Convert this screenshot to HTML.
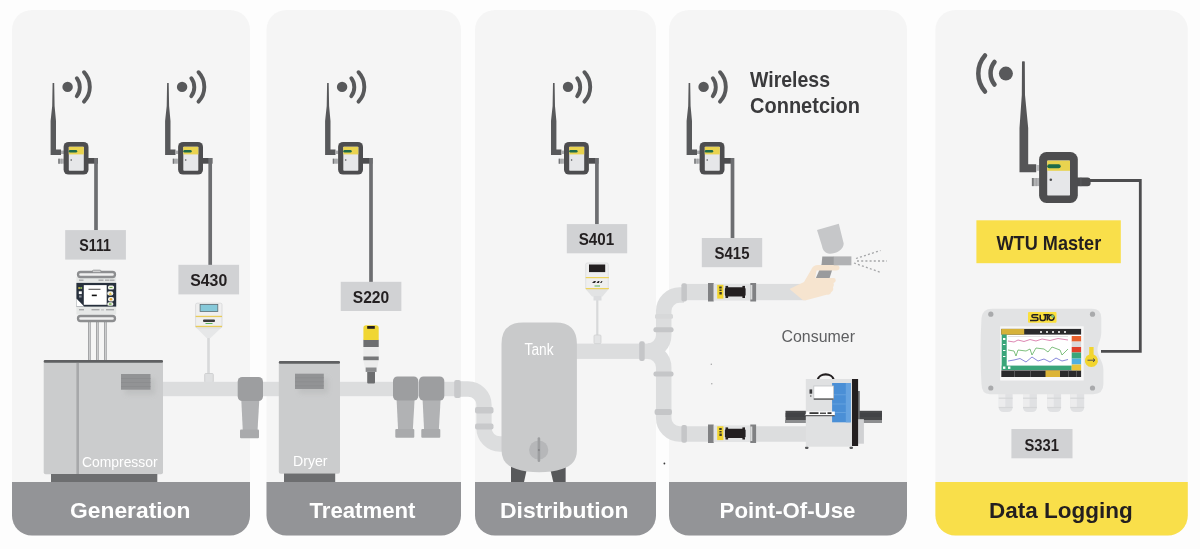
<!DOCTYPE html>
<html><head><meta charset="utf-8"><title>Compressed air monitoring</title>
<style>
html,body{margin:0;padding:0;background:#fdfdfd;width:1200px;height:549px;overflow:hidden}
svg{display:block;will-change:transform}
text{font-family:"Liberation Sans",sans-serif}
</style></head><body>
<svg width="1200" height="549" viewBox="0 0 1200 549">
<rect x="0" y="0" width="1200" height="549" fill="#fdfdfd"/>
<defs>
<filter id="sh" x="-50%" y="-50%" width="200%" height="200%"><feGaussianBlur stdDeviation="2.5"/></filter>
<g id="mod">
 <path d="M52.6,83 L54.2,83 L54.6,106 L56,121 L56,149.5 L61,149.5 L61,155 L50.6,155 L50.6,121 L52.2,106 Z" fill="#58595b"/>
 <rect x="61" y="150.6" width="3" height="3.4" fill="#a9aaac"/>
 <circle cx="67.6" cy="86.9" r="5.2" fill="#58595b"/>
 <path d="M76.8,78.2 A15,15 0 0 1 76.8,96.2" fill="none" stroke="#58595b" stroke-width="3.9" stroke-linecap="round"/>
 <path d="M84,72.2 A21.5,21.5 0 0 1 84,101.6" fill="none" stroke="#58595b" stroke-width="3.9" stroke-linecap="round"/>
 <rect x="58.3" y="158.7" width="5.5" height="5" fill="#b3b4b6"/>
 <rect x="58.3" y="158.7" width="1.4" height="5" fill="#747577"/>
 <rect x="61.2" y="158.7" width="0.6" height="5" fill="#9a9b9d"/>
 <rect x="88" y="158" width="10" height="5.7" fill="#4d4d4f"/>
 <rect x="63.6" y="141.9" width="24.9" height="32.7" rx="5" fill="#4d4d4f"/>
 <rect x="68.8" y="146.8" width="15" height="24" rx="0.8" fill="#e6e7e9"/>
 <rect x="68.8" y="146.8" width="15" height="7.6" fill="#e9d34f"/>
 <rect x="68.8" y="150" width="8.4" height="2.5" rx="1.2" fill="#1d6b4a"/>
 <circle cx="71.2" cy="160" r="0.8" fill="#4d4d4f"/>
</g>
</defs>

<!-- panels -->
<rect x="12" y="10" width="238" height="525.5" rx="20" fill="#f5f5f5"/>
<rect x="266.5" y="10" width="194.5" height="525.5" rx="20" fill="#f5f5f5"/>
<rect x="475" y="10" width="181" height="525.5" rx="20" fill="#f5f5f5"/>
<rect x="669" y="10" width="238" height="525.5" rx="20" fill="#f5f5f5"/>
<rect x="935.4" y="10" width="252.4" height="525.5" rx="20" fill="#f5f5f5"/>

<!-- bottom strips -->
<path d="M12,482 H250 V515.5 A20,20 0 0 1 230,535.5 H32 A20,20 0 0 1 12,515.5 Z" fill="#939497"/>
<path d="M266.5,482 H461 V515.5 A20,20 0 0 1 441,535.5 H286.5 A20,20 0 0 1 266.5,515.5 Z" fill="#939497"/>
<path d="M475,482 H656 V515.5 A20,20 0 0 1 636,535.5 H495 A20,20 0 0 1 475,515.5 Z" fill="#939497"/>
<path d="M669,482 H907 V515.5 A20,20 0 0 1 887,535.5 H689 A20,20 0 0 1 669,515.5 Z" fill="#939497"/>
<path d="M935.4,482 H1187.8 V515.5 A20,20 0 0 1 1167.8,535.5 H955.4 A20,20 0 0 1 935.4,515.5 Z" fill="#f9df4a"/>

<text x="70" y="518" font-size="22.6" font-weight="bold" fill="#ffffff" textLength="120.5" lengthAdjust="spacingAndGlyphs">Generation</text>
<text x="309.5" y="518" font-size="22.6" font-weight="bold" fill="#ffffff" textLength="106" lengthAdjust="spacingAndGlyphs">Treatment</text>
<text x="500" y="518" font-size="22.6" font-weight="bold" fill="#ffffff" textLength="128.5" lengthAdjust="spacingAndGlyphs">Distribution</text>
<text x="719.6" y="518" font-size="22.6" font-weight="bold" fill="#ffffff" textLength="135.8" lengthAdjust="spacingAndGlyphs">Point-Of-Use</text>
<text x="989" y="518" font-size="22.6" font-weight="bold" fill="#231f20" textLength="143.8" lengthAdjust="spacingAndGlyphs">Data Logging</text>

<!-- ===== panel 1: compressor ===== -->
<g id="s111dev">
 <g fill="#a4a5a7">
  <rect x="88" y="321" width="2.8" height="39"/><rect x="96" y="321" width="2.8" height="39"/><rect x="104" y="321" width="2.8" height="39"/>
 </g>
 <g fill="#d5d6d7">
  <rect x="89" y="321" width="0.8" height="39"/><rect x="97" y="321" width="0.8" height="39"/><rect x="105" y="321" width="0.8" height="39"/>
 </g>
 <rect x="76.4" y="277" width="39.8" height="37.5" fill="#e6e8e7"/>
 <rect x="78" y="272" width="37" height="5" rx="2.5" fill="#f0f0f0" stroke="#8d8e90" stroke-width="2.3"/>
 <rect x="92.5" y="270.2" width="8.5" height="2" rx="1" fill="#e8e8e8" stroke="#8d8e90" stroke-width="0.9"/>
 <rect x="76.4" y="282.9" width="39.8" height="23.7" fill="#27303d"/>
 <rect x="83.8" y="285.1" width="22.9" height="19.7" fill="#ffffff"/>
 <path d="M76.4,298.5 L84.2,306.6 L76.4,306.6 Z" fill="#ffffff"/>
 <rect x="78.3" y="287.2" width="1.8" height="1.6" fill="#d8c84a"/><rect x="80.3" y="287.2" width="1.8" height="1.6" fill="#9bc85a"/>
 <rect x="78.8" y="291.3" width="3" height="2.8" fill="#ffffff"/>
 <rect x="79" y="295.5" width="2.6" height="2" fill="#8a8f98"/>
 <g fill="#f2f2ea">
 <rect x="108" y="285.5" width="6" height="4" rx="1.5"/>
 <rect x="107.3" y="291.2" width="6" height="4.4" rx="2"/>
 <rect x="108" y="297" width="6" height="4.4" rx="2"/>
 <rect x="107.3" y="302.3" width="6" height="3.4" rx="1.5"/>
 </g>
 <rect x="109.5" y="287" width="3" height="1" fill="#6fb04a"/>
 <path d="M110.3,292.2 L112,294.8 H108.6 Z" fill="#e8c23a"/>
 <circle cx="111" cy="299.2" r="1.3" fill="#e8a83a"/>
 <rect x="109" y="303.3" width="2.5" height="1.5" fill="#6fb04a"/>
 <rect x="88.5" y="288.8" width="12" height="0.9" fill="#333"/>
 <rect x="91.8" y="294.6" width="5" height="1.6" fill="#111"/>
 <rect x="78" y="316" width="37" height="5" rx="2.5" fill="#f0f0f0" stroke="#8d8e90" stroke-width="2.3"/>
 <g fill="#a9aaac"><rect x="79" y="279.5" width="4.5" height="1.4"/><rect x="98.5" y="279.5" width="5" height="1.4"/><rect x="105" y="279.5" width="4" height="1.4"/><rect x="109.5" y="279.5" width="5" height="1.4"/><rect x="79" y="309" width="5" height="1.4"/><rect x="91.5" y="309" width="8" height="1.4"/><rect x="101" y="309.5" width="3" height="0.8"/><rect x="106" y="309" width="8" height="1.4"/></g>
</g>
<rect x="43.7" y="360" width="119.3" height="114.3" rx="2" fill="#cbcccd"/>
<rect x="43.7" y="360" width="119.3" height="2.8" rx="1.3" fill="#5f6062"/>
<rect x="76.4" y="363" width="2.6" height="111" fill="#a7a8aa"/>
<rect x="51" y="474" width="106.3" height="8" fill="#6d6e70"/>
<rect x="125" y="378.5" width="30" height="16" fill="#bebfc0" filter="url(#sh)" opacity="0.9"/>
<rect x="121" y="374" width="29.5" height="15.7" fill="#929395"/>
<g fill="#8a8b8d"><rect x="121" y="378" width="29.5" height="0.7"/><rect x="121" y="382" width="29.5" height="0.7"/><rect x="121" y="386" width="29.5" height="0.7"/></g>
<text x="82" y="467" font-size="14.4" fill="#ffffff" textLength="75.6" lengthAdjust="spacingAndGlyphs">Compressor</text>

<!-- S430 sensor -->
<rect x="207.2" y="337" width="2.6" height="37" fill="#d8d9da"/>
<rect x="204.7" y="373.5" width="8.6" height="9" rx="1" fill="#dfe0e1" stroke="#c9cacb" stroke-width="0.8"/>
<path d="M196,327.5 H221.6 L210.5,338 H206.5 Z" fill="#e6e7e8"/>
<rect x="195.6" y="303.2" width="26.4" height="24.6" rx="1.5" fill="#efefef" stroke="#d6d7d8" stroke-width="0.8"/>
<rect x="200.1" y="304.5" width="17.7" height="6.9" fill="#86c9d9" stroke="#5a6d74" stroke-width="0.8"/>
<rect x="195.6" y="315.8" width="26.4" height="1.3" fill="#e8cc5a"/>
<rect x="195.6" y="325.8" width="26.4" height="1.3" fill="#e8cc5a"/>
<rect x="203" y="319.5" width="12" height="2.5" rx="1" fill="#3a3a3a"/>
<rect x="205.5" y="323" width="7" height="1" fill="#5bb35b"/>

<!-- main pipe gen->treatment -->
<rect x="163" y="381.8" width="300" height="14.4" fill="#dcddde"/>

<!-- filters -->
<g id="filt">
 <path d="M241.3,400 L259.3,400 L257.5,431 L242.8,431 Z" fill="#b1b2b4"/>
 <rect x="240" y="429.5" width="19" height="8.7" rx="1" fill="#a9aaac"/>
 <rect x="237.7" y="376.9" width="25.3" height="24.1" rx="4.5" fill="#9d9ea0"/>
</g>
<use href="#filt" transform="translate(155.3,-0.5)"/>
<use href="#filt" transform="translate(181.3,-0.5)"/>

<!-- ===== panel 2: dryer ===== -->
<rect x="278.8" y="361" width="61.2" height="112.8" rx="2" fill="#cbcccd"/>
<rect x="278.8" y="361" width="61.2" height="2.8" rx="1.3" fill="#5f6062"/>
<rect x="284" y="473.5" width="51.2" height="8.5" fill="#6d6e70"/>
<rect x="299" y="378" width="29" height="15.5" fill="#bebfc0" filter="url(#sh)" opacity="0.9"/>
<rect x="295" y="373.7" width="28.8" height="15.3" fill="#929395"/>
<g fill="#8a8b8d"><rect x="295" y="377.5" width="28.8" height="0.7"/><rect x="295" y="381.5" width="28.8" height="0.7"/><rect x="295" y="385.5" width="28.8" height="0.7"/></g>
<text x="293" y="465.9" font-size="14.4" fill="#ffffff" textLength="34.5" lengthAdjust="spacingAndGlyphs">Dryer</text>

<!-- S220 sensor -->
<rect x="367.2" y="371" width="7.8" height="12.5" rx="1" fill="#6d6e70"/>
<path d="M363.4,360.2 H378.7 L376.5,372 H365.7 Z" fill="#ececec"/>
<rect x="365.7" y="367.5" width="10.8" height="4.4" fill="#8a8b8d"/>
<rect x="363.4" y="339.8" width="15.3" height="20.4" fill="#ececec"/>
<rect x="363.4" y="339.8" width="15.3" height="7.2" fill="#6d6e70"/>
<rect x="363.4" y="356.5" width="15.3" height="3.7" fill="#767779"/>
<path d="M363.4,340 V328 Q363.4,325.2 366.2,325.2 H375.9 Q378.7,325.2 378.7,328 V340 Z" fill="#f0d633"/>
<rect x="367.2" y="326" width="7.6" height="2.8" fill="#231f20"/>

<!-- pipe treatment -> tank -->
<path d="M455,389 H468 A16,16 0 0 1 484,405 V428 A16,16 0 0 0 500,444 H505" fill="none" stroke="#dcddde" stroke-width="15.3"/>
<rect x="454.2" y="380" width="6.6" height="18" rx="2" fill="#c8c9cb"/>
<rect x="475" y="407" width="18.5" height="6.5" rx="2" fill="#c8c9cb"/>
<rect x="475" y="423.4" width="18.5" height="6.1" rx="2" fill="#c8c9cb"/>

<!-- ===== panel 3: tank ===== -->
<rect x="576" y="343.6" width="80" height="15.3" fill="#dcddde"/>
<path d="M647.7,351.25 A16,16 0 0 0 663.7,335.25 V311 A16,16 0 0 1 679.7,295 H684" fill="none" stroke="#dcddde" stroke-width="15.5"/>
<rect x="684" y="283.9" width="122" height="16.3" fill="#dcddde"/>
<path d="M647.7,351.25 A16,16 0 0 1 663.7,367.25 V418 A16,16 0 0 0 679.7,434 H806" fill="none" stroke="#dcddde" stroke-width="15.5"/>
<g fill="#c5c6c8">
<rect x="639.2" y="341.3" width="5.5" height="19.7" rx="2"/>
<rect x="681.4" y="283.2" width="5.5" height="18.2" rx="2"/>
<rect x="655" y="314" width="18" height="4.7" rx="1.5" fill="#d7d8d9"/>
<rect x="681.4" y="425" width="5.5" height="17.8" rx="2"/>
<rect x="653.5" y="327.2" width="20" height="5" rx="2"/>
<rect x="653.5" y="371.4" width="20" height="5" rx="2"/>
<rect x="654.6" y="409.1" width="17.3" height="5.9" rx="2"/>
</g>
<path d="M511,466 H527.5 L524,482 H511 Z" fill="#58595b"/>
<path d="M549.5,466 H565.6 V482 H553.3 Z" fill="#58595b"/>
<path d="M501.5,344 Q501.5,322.5 523,322.5 H555.4 Q576.9,322.5 576.9,344 V450 Q576.9,465 562,469 Q552,472.3 539.2,472.3 Q526.4,472.3 516.4,469 Q501.5,465 501.5,450 Z" fill="#c9cacb"/>
<text x="524.6" y="355" font-size="16" fill="#ffffff" textLength="29" lengthAdjust="spacingAndGlyphs">Tank</text>
<circle cx="538.7" cy="450" r="9.6" fill="#b6b7b9"/>
<rect x="537.6" y="437.2" width="2.6" height="24.8" rx="1.3" fill="#9d9ea0"/>
<circle cx="538.9" cy="450" r="1.1" fill="#848587"/>

<!-- S401 sensor -->
<rect x="596.2" y="296" width="2.2" height="40" fill="#d8d9da"/>
<rect x="594" y="335" width="7" height="8.6" rx="1" fill="#e3e4e5" stroke="#cdcecf" stroke-width="0.7"/>
<path d="M586,289.5 H608.3 L602.5,296.5 H592 Z" fill="#e2e3e4"/>
<rect x="593.5" y="296" width="8" height="4.5" fill="#dcdddf"/>
<rect x="585.7" y="263" width="22.6" height="26.5" rx="1.5" fill="#efefef" stroke="#d9dadb" stroke-width="0.7"/>
<rect x="589" y="264.5" width="16.2" height="7.6" fill="#231f20"/>
<rect x="585.7" y="277" width="23.2" height="1.2" fill="#edd35a"/>
<rect x="585.7" y="288" width="23.2" height="1.2" fill="#edd35a"/>
<path d="M592,283 L594,281 H596 L595,283 Z M596.5,283 L598,281 H599.5 L599,283 Z M600,283 L601.5,281 H602.5 L601.5,283 Z" fill="#2a2a2a"/>
<rect x="594.5" y="285.5" width="5.5" height="1" fill="#5bb35b"/>

<!-- ===== panel 4 ===== -->
<g id="fm">
 <rect x="708" y="283" width="5.7" height="18.5" fill="#808183"/>
 <rect x="713.7" y="283.9" width="36.6" height="16.6" fill="#e3e4e5"/>
 <rect x="717.2" y="284.8" width="6.2" height="13.8" fill="#f2d52e"/>
 <path d="M719.2,286.5 h2.5 v2 h-2.5 z M719.4,289.5 h2.2 v1.6 h-2.2 z M719.4,292 h2.4 v2.5 h-2.4 z" fill="#3a3a2a"/>
 <rect x="724.9" y="287.3" width="20.7" height="9.3" rx="1.8" fill="#231f20"/>
 <g fill="#231f20"><rect x="725.5" y="285.9" width="2.6" height="2"/><rect x="742.4" y="285.9" width="2.6" height="2"/><rect x="725.5" y="296" width="2.6" height="2"/><rect x="742.4" y="296" width="2.6" height="2"/></g>
 <rect x="750.3" y="283" width="5.8" height="18.5" fill="#808183"/>
 <rect x="750.3" y="285" width="2" height="14.5" fill="#d9dadb"/>
</g>
<use href="#fm" transform="translate(0,141.5)"/>

<!-- hand + spray gun -->
<path d="M822,264 L834,264 L829,280 L815,280 Z" fill="#9a9b9d"/>
<path d="M789.5,289 L804,282 L811,270 Q813,265 818,265 H836 Q839.5,265 839.5,267.8 Q839.5,270.5 836,270.5 H816.6 L815.2,278 H833.5 Q835.8,278 835.8,280.2 Q835.8,282.2 833.5,283 Q834.8,285.5 833,287.6 Q834,290.5 831,292.5 Q830.5,294.8 826.5,294.8 L806,300.2 H803 Z" fill="#f6e4cf"/>
<path d="M817,230 L838.8,223.7 L843.7,243.5 C843.7,250 836,253.7 830,253.7 C825,253.7 822.8,250 822,246 Z" fill="#c6c7c9"/>
<path d="M822.3,256.4 H834 V265 H821.5 Z" fill="#9a9b9d"/>
<rect x="833.7" y="256.4" width="17.7" height="8.9" fill="#b1b2b4"/>
<g stroke="#a5a6a8" stroke-width="1.3" stroke-dasharray="2,2.2" fill="none">
<path d="M856,258.5 L880.5,250.5"/><path d="M857,261 L887,261"/><path d="M854,263 L881,272.5"/>
</g>
<text x="781.5" y="342" font-size="17.2" fill="#5e5f61" textLength="73.5" lengthAdjust="spacingAndGlyphs">Consumer</text>

<!-- machine -->
<rect x="785.5" y="410.8" width="96.5" height="9.5" fill="#48494b"/>
<rect x="785.5" y="413" width="96.5" height="4" fill="#3f4042" opacity="0.6"/>
<rect x="785" y="420" width="97" height="3" fill="#8d8e90"/>
<rect x="858" y="391" width="1.8" height="29" fill="#6d6e70"/>
<rect x="858" y="419.2" width="5.9" height="24.5" fill="#d0d1d3"/>
<path d="M817.8,379.5 A8,6 0 0 1 833.6,379.5" fill="none" stroke="#231f20" stroke-width="2.2"/>
<rect x="805.8" y="379" width="46.5" height="67.7" fill="#e0e1e2"/>
<rect x="832.1" y="383" width="18.6" height="39.3" fill="#4a8fd6"/>
<rect x="845.8" y="383" width="4.9" height="39.3" fill="#66a3e0"/>
<g fill="#6aa6e0"><rect x="832.1" y="394.4" width="13.7" height="0.8"/><rect x="832.1" y="403.6" width="13.7" height="0.8"/><rect x="832.1" y="412" width="13.7" height="0.8"/></g>
<rect x="852" y="379" width="6.1" height="67" fill="#231f20"/>
<rect x="813.8" y="386" width="19.8" height="13.3" fill="#ffffff" stroke="#c2c3c5" stroke-width="0.8"/>
<rect x="813.8" y="398.4" width="19.8" height="1.3" fill="#4d4d4f"/>
<rect x="809.5" y="389.4" width="2.7" height="4.3" fill="#3a3a3c"/>
<circle cx="810.8" cy="396" r="0.8" fill="#555"/>
<path d="M804.6,416.1 L807,411.6 H834.8 V416.1 Z" fill="#ffffff"/>
<rect x="804.6" y="415.2" width="30.2" height="1" fill="#3a3a3c"/>
<g fill="#222"><rect x="809.5" y="412.3" width="9" height="1.6"/><rect x="820" y="412.6" width="6" height="1.2"/><rect x="827.5" y="412.3" width="4" height="1.6"/></g>
<rect x="805" y="446.7" width="3.5" height="2.2" rx="0.8" fill="#58595b"/>
<rect x="849.5" y="446.7" width="3.5" height="2.2" rx="0.8" fill="#58595b"/>

<!-- ===== panel 5 ===== -->
<path d="M1082,180.5 H1140.3 V351.4 H1101" fill="none" stroke="#4d4d4f" stroke-width="2.8"/>
<path d="M1022,61.5 Q1023.4,60.8 1024.8,61.5 L1025,95 L1028.2,128 L1028.2,164.2 L1036.2,164.2 L1036.2,172.3 L1019.5,172.3 L1019.5,128 L1021.8,95 Z" fill="#555557"/>
<circle cx="1005.9" cy="73.6" r="7" fill="#58595b"/>
<path d="M994.5,62 A18,18 0 0 0 994.5,84.5" fill="none" stroke="#58595b" stroke-width="4.5" stroke-linecap="round"/>
<path d="M985,55.5 A27.5,27.5 0 0 0 985,91.5" fill="none" stroke="#58595b" stroke-width="4.5" stroke-linecap="round"/>
<rect x="1031.9" y="178" width="7.5" height="8.1" fill="#b3b4b6"/>
<rect x="1031.9" y="178" width="1.8" height="8.1" fill="#747577"/>
<rect x="1035.8" y="178" width="0.8" height="8.1" fill="#9a9b9d"/>
<rect x="1036.2" y="165" width="3.2" height="5.8" fill="#b9babc"/>
<path d="M1077,177.5 H1087.5 Q1090.6,177.5 1090.6,180.5 V183.2 Q1090.6,186.2 1087.5,186.2 H1077 Z" fill="#4d4d4f"/>
<rect x="1080.6" y="177.5" width="0.7" height="8.7" fill="#5e5f61"/>
<rect x="1039.1" y="152.1" width="38.7" height="50.8" rx="7.5" fill="#4d4d4f"/>
<rect x="1047.2" y="160.6" width="22.8" height="35" rx="1.2" fill="#e6e7e9"/>
<rect x="1047.2" y="160.6" width="22.8" height="10.2" fill="#e9d34f"/>
<rect x="1047.2" y="164.2" width="13.5" height="4" rx="2" fill="#1d6b4a"/>
<circle cx="1050.8" cy="179.8" r="1.3" fill="#4d4d4f"/>

<rect x="976.4" y="220.3" width="144.4" height="42.9" fill="#f9df4a"/>
<text x="996.5" y="249.5" font-size="19.9" font-weight="bold" fill="#231f20" textLength="104.7" lengthAdjust="spacingAndGlyphs">WTU Master</text>

<!-- data logger -->
<g>
 <path d="M998.75,393 H1012.65 V407 Q1012.65,412 1007.75,412 H1003.65 Q998.75,412 998.75,407 Z" fill="#e0e1e3"/>
 <rect x="998.75" y="394" width="6.6" height="13.5" fill="#ececed"/>
 <rect x="998.75" y="397.6" width="13.9" height="1.2" fill="#d5d6d8"/>
 <rect x="998.75" y="406.9" width="13.9" height="1.2" fill="#d5d6d8"/>
 <path d="M1023,393 H1036.9 V407 Q1036.9,412 1032,412 H1027.9 Q1023,412 1023,407 Z" fill="#e0e1e3"/>
 <rect x="1023" y="394" width="6.6" height="13.5" fill="#ececed"/>
 <rect x="1023" y="397.6" width="13.9" height="1.2" fill="#d5d6d8"/>
 <rect x="1023" y="406.9" width="13.9" height="1.2" fill="#d5d6d8"/>
 <path d="M1047.2,393 H1061.1000000000001 V407 Q1061.1000000000001,412 1056.2,412 H1052.1000000000001 Q1047.2,412 1047.2,407 Z" fill="#e0e1e3"/>
 <rect x="1047.2" y="394" width="6.6" height="13.5" fill="#ececed"/>
 <rect x="1047.2" y="397.6" width="13.9" height="1.2" fill="#d5d6d8"/>
 <rect x="1047.2" y="406.9" width="13.9" height="1.2" fill="#d5d6d8"/>
 <path d="M1070.3,393 H1084.2 V407 Q1084.2,412 1079.3,412 H1075.2 Q1070.3,412 1070.3,407 Z" fill="#e0e1e3"/>
 <rect x="1070.3" y="394" width="6.6" height="13.5" fill="#ececed"/>
 <rect x="1070.3" y="397.6" width="13.9" height="1.2" fill="#d5d6d8"/>
 <rect x="1070.3" y="406.9" width="13.9" height="1.2" fill="#d5d6d8"/>
</g>
<path d="M992,308.8 H1092 Q1101.3,308.8 1101.3,318 V332 C1101.3,340 1097.5,344 1097.5,350 C1097.5,357 1103.4,361 1103.4,370 V384 Q1103.4,394.2 1093,394.2 H990 Q981.5,394.2 981.5,384 Q979.5,352 981.5,318 Q982.5,308.8 992,308.8 Z" fill="#e2e3e4"/>
<g fill="#a9aaac"><circle cx="990.8" cy="314.2" r="2.6"/><circle cx="1092.5" cy="314.2" r="2.6"/><circle cx="990.8" cy="388" r="2.6"/><circle cx="1092.5" cy="388" r="2.6"/></g>
<rect x="1028" y="312" width="28.5" height="10.7" rx="1" fill="#fbe03c"/>
<path d="M1030,320.4 H1036.4 Q1038,320.4 1038,318.9 Q1038,317.4 1036.4,317.4 H1033.2 Q1031.9,317.4 1031.9,316.1 Q1031.9,314.7 1033.3,314.7 H1038.3 M1040.2,314.7 V318.6 Q1040.2,320.4 1042,320.4 H1043.5 Q1045.3,320.4 1045.3,318.6 V315 M1043.4,314.7 H1049.5 M1047.3,314.7 V320.6" fill="none" stroke="#231f20" stroke-width="1.5"/>
<circle cx="1051.4" cy="317.6" r="2.6" fill="none" stroke="#231f20" stroke-width="1.5"/>
<circle cx="1052.6" cy="316.2" r="1.5" fill="#7cc47a"/>
<rect x="1000.2" y="326.3" width="83.5" height="54.2" fill="#f7f7f7"/>
<rect x="1001.3" y="328.9" width="79.8" height="48.1" fill="#ffffff"/>
<rect x="1001.3" y="328.9" width="79.8" height="5.7" fill="#2a2a2c"/>
<rect x="1001.3" y="328.9" width="22.9" height="5.7" fill="#d6b23a"/>
<g fill="#cfcfcf"><rect x="1040" y="331" width="2" height="2"/><rect x="1046" y="331" width="2" height="2"/><rect x="1052" y="331" width="2" height="2"/><rect x="1058" y="331" width="2" height="2"/><rect x="1064" y="331" width="2" height="2"/></g>
<rect x="1001.3" y="370.4" width="79.8" height="6.6" fill="#2a2a2c"/>
<rect x="1045.5" y="370.4" width="14.5" height="6.6" fill="#dcb436"/>
<g fill="#6a6a6c"><rect x="1014" y="370.4" width="0.7" height="6.6"/><rect x="1030" y="370.4" width="0.7" height="6.6"/><rect x="1068" y="370.4" width="0.7" height="6.6"/><rect x="1076" y="370.4" width="0.7" height="6.6"/></g>
<rect x="1001.7" y="334.6" width="5" height="35.4" fill="#3aa57a"/>
<rect x="1001.7" y="365.6" width="70" height="4.4" fill="#3aa57a"/>
<g fill="#ffffff"><rect x="1003" y="338" width="2.4" height="2"/><rect x="1003" y="344" width="2.4" height="1"/><rect x="1003" y="350" width="2.4" height="1"/><rect x="1003" y="356" width="2.4" height="1"/><rect x="1003" y="366.5" width="2.4" height="2.4"/><rect x="1008" y="366.5" width="2.4" height="2.4"/></g>
<g>
 <rect x="1071.7" y="336" width="9.4" height="5.6" fill="#e8602c"/>
 <rect x="1071.7" y="341.6" width="9.4" height="5.4" fill="#d9d9d9"/>
 <rect x="1071.7" y="347" width="9.4" height="5.5" fill="#e0402a"/>
 <rect x="1071.7" y="352.5" width="9.4" height="6.1" fill="#3aa57a"/>
 <rect x="1071.7" y="358.6" width="9.4" height="5.9" fill="#4fb0e0"/>
 <rect x="1071.7" y="364.5" width="9.4" height="5.9" fill="#e8c43a"/>
</g>
<g fill="none" stroke-width="0.8">
 <path d="M1008,341 L1014,342 L1018,340 L1024,341.5 L1030,339.5 L1036,341 L1042,339 L1050,340.5 L1058,338.5 L1068,340" stroke="#d46aa0"/>
 <path d="M1008,350 L1014,351 L1016,356 L1018,350 L1026,351 L1030,349 L1032,355 L1036,348 L1044,349 L1048,352 L1052,347 L1060,350 L1062,355 L1068,349" stroke="#60b060"/>
 <path d="M1008,361 L1014,360 L1020,358.5 L1026,362 L1032,357 L1038,361 L1044,359 L1050,362 L1056,358 L1062,361 L1068,359.5" stroke="#6a6ad0"/>
 <path d="M1008,336.5 H1068" stroke="#cccccc" stroke-width="0.6"/>
</g>
<path d="M1089.2,347 H1093.6 V354.5 A6.5,6.5 0 1 1 1089.2,354.5 Z" fill="#f2d52e"/>
<path d="M1087.5,360.2 H1095 M1093,358.5 L1095,360.2 L1093,361.9" fill="none" stroke="#4d4d4f" stroke-width="1"/>

<circle cx="664.4" cy="463.5" r="0.9" fill="#3a3a3c"/>
<circle cx="711.3" cy="364.3" r="0.7" fill="#a0a0a2"/>
<circle cx="711.8" cy="383.8" r="0.7" fill="#a0a0a2"/>
<!-- wireless modules -->
<use href="#mod"/>
<use href="#mod" transform="translate(114.5,0)"/>
<use href="#mod" transform="translate(274.5,0)"/>
<use href="#mod" transform="translate(500.4,0)"/>
<use href="#mod" transform="translate(636,0)"/>

<!-- wires -->
<g stroke="#6d6e71" stroke-width="3.7" fill="none">
<path d="M96,158 V230.5"/>
<path d="M210.2,158 V265"/>
<path d="M371,158 V282"/>
<path d="M596.9,158 V224.5"/>
<path d="M732.5,158 V238.5"/>
</g>

<!-- labels -->
<g fill="#d1d2d4">
<rect x="65.2" y="230.1" width="60.7" height="29.5"/>
<rect x="178.4" y="264.8" width="60.7" height="29.6"/>
<rect x="340.75" y="281.8" width="60.6" height="29.2"/>
<rect x="566.8" y="224.1" width="60.4" height="29.2"/>
<rect x="701.8" y="238" width="60.4" height="29.2"/>
<rect x="1011.4" y="429" width="61.1" height="29.3"/>
</g>
<g font-size="16.4" font-weight="bold" fill="#231f20">
<text x="79.3" y="251.2" textLength="31.7" lengthAdjust="spacingAndGlyphs">S111</text>
<text x="190.2" y="286" textLength="37" lengthAdjust="spacingAndGlyphs">S430</text>
<text x="352.8" y="302.8" textLength="36.4" lengthAdjust="spacingAndGlyphs">S220</text>
<text x="578.7" y="245.3" textLength="35.5" lengthAdjust="spacingAndGlyphs">S401</text>
<text x="714.6" y="259" textLength="34.9" lengthAdjust="spacingAndGlyphs">S415</text>
<text x="1024.4" y="450.7" textLength="34.5" lengthAdjust="spacingAndGlyphs">S331</text>
</g>

<text x="750" y="86.5" font-size="22.6" font-weight="bold" fill="#3a3a3c" textLength="80" lengthAdjust="spacingAndGlyphs">Wireless</text>
<text x="750" y="112.8" font-size="22.6" font-weight="bold" fill="#3a3a3c" textLength="110" lengthAdjust="spacingAndGlyphs">Connetcion</text>

</svg>
</body></html>
